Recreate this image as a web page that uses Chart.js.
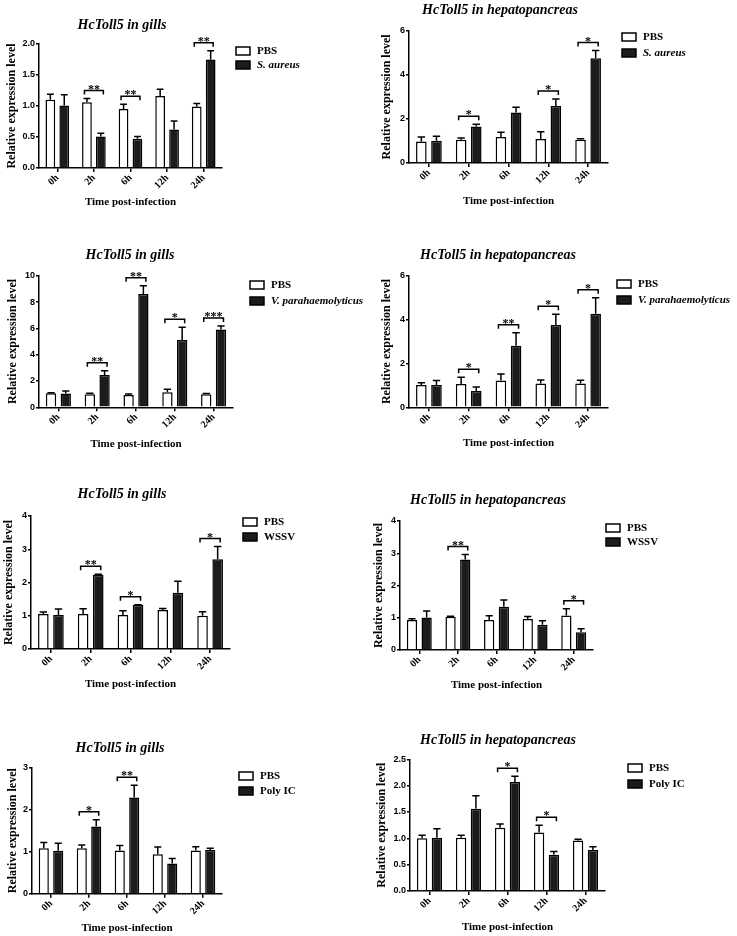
<!DOCTYPE html>
<html>
<head>
<meta charset="utf-8">
<title>HcToll5 expression</title>
<script src="https://cdn.jsdelivr.net/npm/chart.js@4.4.1/dist/chart.umd.min.js"></script>
<style>
  body { margin: 0; background: #fff; }
  #page { position: relative; width: 737px; height: 936px; overflow: hidden; }
  canvas { position: absolute; }
</style>
</head>
<body>
<div id="page"></div>
<script>
const hours = ["0h", "2h", "6h", "12h", "24h"];

// S. aureus, gills
const saGillPbs = [1.10, 1.06, 0.95, 1.16, 0.99];
const saGillPbsSd = [0.09, 0.06, 0.08, 0.11, 0.05];
const saGillTrt = [1.01, 0.51, 0.47, 0.62, 1.75];
const saGillTrtSd = [0.17, 0.05, 0.04, 0.14, 0.14];
const saGillStars = ["", "**", "**", "", "**"];

// S. aureus, hepatopancreas
const saHepPbs = [0.98, 1.06, 1.18, 1.09, 1.06];
const saHepPbsSd = [0.20, 0.07, 0.22, 0.33, 0.04];
const saHepTrt = [1.01, 1.66, 2.29, 2.59, 4.75];
const saHepTrtSd = [0.20, 0.10, 0.24, 0.31, 0.35];
const saHepStars = ["", "*", "", "*", "*"];

// V. parahaemolyticus, gills
const vpGillPbs = [1.06, 0.99, 0.94, 1.14, 0.99];
const vpGillPbsSd = [0.05, 0.07, 0.07, 0.23, 0.05];
const vpGillTrt = [1.04, 2.46, 8.61, 5.11, 5.92];
const vpGillTrtSd = [0.20, 0.32, 0.63, 0.97, 0.26];
const vpGillStars = ["", "**", "**", "*", "***"];

// V. parahaemolyticus, hepatopancreas
const vpHepPbs = [1.02, 1.06, 1.22, 1.08, 1.08];
const vpHepPbsSd = [0.10, 0.31, 0.30, 0.17, 0.15];
const vpHepTrt = [1.02, 0.74, 2.81, 3.75, 4.27];
const vpHepTrtSd = [0.20, 0.19, 0.59, 0.49, 0.73];
const vpHepStars = ["", "*", "**", "*", "*"];

// WSSV, gills
const wsGillPbs = [1.05, 1.05, 1.02, 1.17, 1.00];
const wsGillPbsSd = [0.06, 0.16, 0.13, 0.05, 0.12];
const wsGillTrt = [1.02, 2.23, 1.32, 1.69, 2.70];
const wsGillTrtSd = [0.18, 0.02, 0.01, 0.35, 0.38];
const wsGillStars = ["", "**", "*", "", "*"];

// WSSV, hepatopancreas
const wsHepPbs = [0.93, 1.03, 0.93, 0.96, 1.07];
const wsHepPbsSd = [0.04, 0.02, 0.13, 0.08, 0.21];
const wsHepTrt = [1.01, 2.81, 1.34, 0.78, 0.55];
const wsHepTrtSd = [0.20, 0.15, 0.21, 0.13, 0.11];
const wsHepStars = ["", "**", "", "", "*"];

// Poly IC, gills
const piGillPbs = [1.08, 1.08, 1.03, 0.94, 1.03];
const piGillPbsSd = [0.14, 0.08, 0.12, 0.17, 0.09];
const piGillTrt = [1.02, 1.60, 2.29, 0.72, 1.04];
const piGillTrtSd = [0.18, 0.16, 0.29, 0.12, 0.04];
const piGillStars = ["", "*", "**", "", ""];

// Poly IC, hepatopancreas
const piHepPbs = [1.00, 1.01, 1.20, 1.11, 0.96];
const piHepPbsSd = [0.06, 0.05, 0.07, 0.14, 0.02];
const piHepTrt = [1.01, 1.56, 2.07, 0.69, 0.78];
const piHepTrtSd = [0.17, 0.25, 0.11, 0.06, 0.06];
const piHepStars = ["", "", "*", "*", ""];

const yMax = [2.0, 6, 10, 6, 4, 4, 3, 2.5];
const yStep = [0.5, 2, 2, 2, 1, 1, 1, 0.5];

const SERIF = "'Liberation Serif', 'Times New Roman', serif";
const SANS = "'Liberation Sans', Arial, sans-serif";

const panels = [
  { title: "HcToll5 in gills", trt: "S. aureus", italic: true, pbs: saGillPbs, pbsSd: saGillPbsSd, val: saGillTrt, valSd: saGillTrtSd, stars: saGillStars },
  { title: "HcToll5 in hepatopancreas", trt: "S. aureus", italic: true, pbs: saHepPbs, pbsSd: saHepPbsSd, val: saHepTrt, valSd: saHepTrtSd, stars: saHepStars },
  { title: "HcToll5 in gills", trt: "V. parahaemolyticus", italic: true, pbs: vpGillPbs, pbsSd: vpGillPbsSd, val: vpGillTrt, valSd: vpGillTrtSd, stars: vpGillStars },
  { title: "HcToll5 in hepatopancreas", trt: "V. parahaemolyticus", italic: true, pbs: vpHepPbs, pbsSd: vpHepPbsSd, val: vpHepTrt, valSd: vpHepTrtSd, stars: vpHepStars },
  { title: "HcToll5 in gills", trt: "WSSV", italic: false, pbs: wsGillPbs, pbsSd: wsGillPbsSd, val: wsGillTrt, valSd: wsGillTrtSd, stars: wsGillStars },
  { title: "HcToll5 in hepatopancreas", trt: "WSSV", italic: false, pbs: wsHepPbs, pbsSd: wsHepPbsSd, val: wsHepTrt, valSd: wsHepTrtSd, stars: wsHepStars },
  { title: "HcToll5 in gills", trt: "Poly IC", italic: false, pbs: piGillPbs, pbsSd: piGillPbsSd, val: piGillTrt, valSd: piGillTrtSd, stars: piGillStars },
  { title: "HcToll5 in hepatopancreas", trt: "Poly IC", italic: false, pbs: piHepPbs, pbsSd: piHepPbsSd, val: piHepTrt, valSd: piHepTrtSd, stars: piHepStars },
];

// where each panel sits on the page: plot box [left, top, right, bottom], titles, legend
const layout = [
  { plot: [39, 44, 222, 168], yTitleX: 12, xTitleY: 201, titleX: 122, titleY: 25, legend: [236, 51, 65], edge: 370 },
  { plot: [409, 30.7, 608, 163], yTitleX: 387, xTitleY: 200, titleX: 500, titleY: 10, legend: [622, 37, 53], edge: 737 },
  { plot: [39, 275.7, 233, 407.3], yTitleX: 13, xTitleY: 443, titleX: 130, titleY: 255, legend: [250, 285, 301], edge: 370 },
  { plot: [409, 275.7, 608, 407.3], yTitleX: 387, xTitleY: 442, titleX: 498, titleY: 255, legend: [617, 284, 300], edge: 737 },
  { plot: [31, 516, 230, 649], yTitleX: 9, xTitleY: 683, titleX: 122, titleY: 494, legend: [243, 522, 537], edge: 370 },
  { plot: [400, 521, 593, 650], yTitleX: 379, xTitleY: 684, titleX: 488, titleY: 500, legend: [606, 528, 542], edge: 737 },
  { plot: [32, 767.7, 222, 893.7], yTitleX: 13, xTitleY: 927, titleX: 120, titleY: 748, legend: [239, 776, 791], edge: 370 },
  { plot: [410, 759.3, 605, 891], yTitleX: 382, xTitleY: 926, titleX: 498, titleY: 740, legend: [628, 768, 784], edge: 737 },
];

// error bars, significance brackets, title and legend
function decoPlugin(p, lay, left, top) {
  return {
    id: "deco",
    afterDatasetsDraw(chart) {
      const ctx = chart.ctx;
      const y = chart.scales.y;
      const sets = [[p.pbs, p.pbsSd], [p.val, p.valSd]];
      ctx.save();
      ctx.strokeStyle = "#000";
      ctx.lineWidth = 1.5;
      sets.forEach(([vals, sds], i) => {
        chart.getDatasetMeta(i).data.forEach((bar, j) => {
          const yTop = y.getPixelForValue(vals[j] + sds[j]);
          const half = bar.width * 0.35;
          ctx.beginPath();
          ctx.moveTo(bar.x, bar.y);
          ctx.lineTo(bar.x, yTop);
          ctx.moveTo(bar.x - half, yTop);
          ctx.lineTo(bar.x + half, yTop);
          ctx.stroke();
        });
      });

      const m0 = chart.getDatasetMeta(0).data;
      const m1 = chart.getDatasetMeta(1).data;
      ctx.fillStyle = "#000";
      ctx.font = "bold 12px " + SERIF;
      ctx.textAlign = "center";
      ctx.textBaseline = "alphabetic";
      p.stars.forEach((s, j) => {
        if (!s) return;
        const hi = Math.max(p.pbs[j] + p.pbsSd[j], p.val[j] + p.valSd[j]);
        const yb = y.getPixelForValue(hi) - 8;
        const x1 = m0[j].x - 2.5;
        const x2 = m1[j].x + 2.5;
        ctx.beginPath();
        ctx.moveTo(x1, yb + 4);
        ctx.lineTo(x1, yb);
        ctx.lineTo(x2, yb);
        ctx.lineTo(x2, yb + 4);
        ctx.stroke();
        ctx.fillText(s, (x1 + x2) / 2, yb + 2);
      });
      ctx.restore();
    },
    afterDraw(chart) {
      const ctx = chart.ctx;
      ctx.save();
      ctx.fillStyle = "#000";
      ctx.textAlign = "center";
      ctx.textBaseline = "middle";
      ctx.font = "italic bold 14px " + SERIF;
      ctx.fillText(p.title, lay.titleX - left, lay.titleY - top);

      // legend
      const lx = lay.legend[0] - left;
      const rows = [
        { text: "PBS", fill: "#fff", italic: false, y: lay.legend[1] - top },
        { text: p.trt, fill: "#1c1c1c", italic: p.italic, y: lay.legend[2] - top },
      ];
      ctx.lineWidth = 1.5;
      ctx.strokeStyle = "#000";
      ctx.textAlign = "left";
      rows.forEach((r) => {
        ctx.fillStyle = r.fill;
        ctx.fillRect(lx, r.y - 4, 14, 8);
        ctx.strokeRect(lx, r.y - 4, 14, 8);
        ctx.fillStyle = "#000";
        ctx.font = (r.italic ? "italic " : "") + "bold 11px " + SERIF;
        ctx.fillText(r.text, lx + 21, r.y);
      });
      ctx.restore();
    },
  };
}

const page = document.getElementById("page");

panels.forEach((p, i) => {
  const lay = layout[i];
  const [l, t, r, b] = lay.plot;
  const left = lay.yTitleX - 7;
  const top = lay.titleY - 12;
  const width = lay.edge - left;
  const height = lay.xTitleY + 8 - top;

  const canvas = document.createElement("canvas");
  canvas.width = width;
  canvas.height = height;
  canvas.style.left = left + "px";
  canvas.style.top = top + "px";
  canvas.style.width = width + "px";
  canvas.style.height = height + "px";
  page.appendChild(canvas);

  const yW = l - left;
  const xH = top + height - b;
  const dec = yStep[i] < 1 ? 1 : 0;

  new Chart(canvas, {
    type: "bar",
    data: {
      labels: hours,
      datasets: [
        {
          label: "PBS",
          data: p.pbs,
          backgroundColor: "#fff",
          borderColor: "#000",
          borderWidth: 1.5,
          categoryPercentage: 0.76,
          barPercentage: 0.7,
        },
        {
          label: p.trt,
          data: p.val,
          backgroundColor: "#1c1c1c",
          borderColor: "#000",
          borderWidth: 1.5,
          categoryPercentage: 0.76,
          barPercentage: 0.7,
        },
      ],
    },
    options: {
      responsive: false,
      animation: false,
      devicePixelRatio: 1,
      layout: { padding: { left: 0, top: t - top, right: lay.edge - r, bottom: 0 } },
      plugins: { legend: { display: false }, tooltip: { enabled: false } },
      scales: {
        x: {
          offset: true,
          afterFit: (s) => { s.height = xH; },
          border: { display: true, color: "#000", width: 1.5 },
          grid: { display: true, offset: false, drawOnChartArea: false, drawTicks: true, tickLength: 4, color: "#000", lineWidth: 1.5 },
          ticks: { color: "#000", minRotation: 45, maxRotation: 45, padding: 0, font: { family: SERIF, size: 10, weight: "bold" } },
          title: { display: true, text: "Time post-infection", color: "#000", padding: 0, font: { family: SERIF, size: 11, weight: "bold" } },
        },
        y: {
          min: 0,
          max: yMax[i],
          afterFit: (s) => { s.width = yW; },
          border: { display: true, color: "#000", width: 1.5 },
          grid: { display: true, drawOnChartArea: false, drawTicks: true, tickLength: 3, color: "#000", lineWidth: 1.5 },
          ticks: {
            stepSize: yStep[i],
            color: "#000",
            padding: 1,
            font: { family: SANS, size: 9, weight: "bold" },
            callback: (v) => Number(v).toFixed(dec),
          },
          title: { display: true, text: "Relative expression level", color: "#000", padding: 0, font: { family: SERIF, size: 12, weight: "bold" } },
        },
      },
    },
    plugins: [decoPlugin(p, lay, left, top)],
  });
});
</script>
</body>
</html>
